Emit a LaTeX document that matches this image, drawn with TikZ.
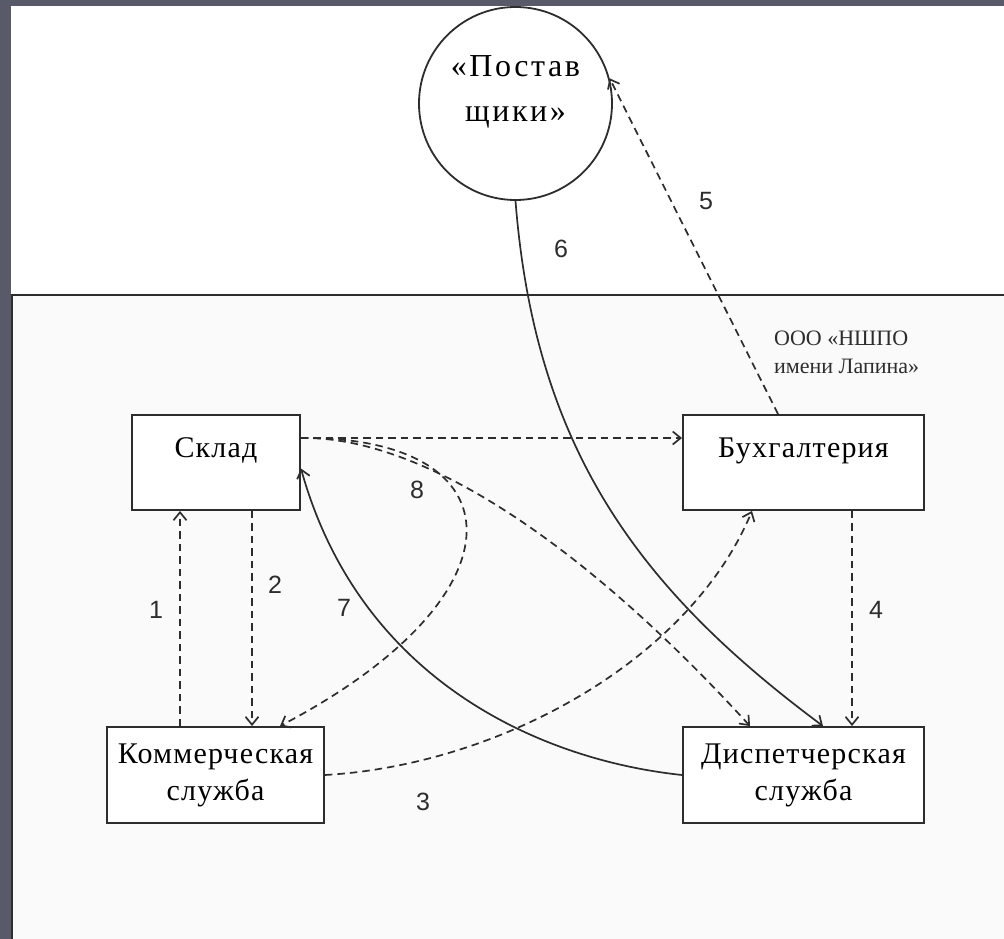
\documentclass[tikz,border=0pt]{standalone}
\usepackage{fontspec}
\setmainfont{Liberation Serif}
\newfontfamily\numfont{Liberation Sans}
\newfontfamily\boxfont[LetterSpace=4]{Liberation Serif}
\newfontfamily\circfont[LetterSpace=8]{Liberation Serif}
\usetikzlibrary{arrows.meta}
\definecolor{frame}{RGB}{88,90,106}
\definecolor{ink}{RGB}{45,45,45}
\begin{document}
\begin{tikzpicture}[x=1pt,y=-1pt,
  box/.style={draw=ink, line width=1.9pt, rectangle, inner sep=0pt, fill=white,
    font=\boxfont\fontsize{30}{37}\selectfont, align=center},
  flow/.style={draw=ink, line width=1.7pt, dash pattern=on 7.5pt off 5pt,
    -{Straight Barb[length=8pt,width=13pt]}},
  solidflow/.style={draw=ink, line width=1.7pt,
    -{Straight Barb[length=8pt,width=13pt]}},
  num/.style={font=\numfont\fontsize{25}{25}\selectfont, text=ink, inner sep=0pt}]
\useasboundingbox (0,0) rectangle (1004,939);
\fill[frame] (0,0) rectangle (1004,939);
\fill[white] (11,6) rectangle (1004,939);
\draw[ink, line width=2pt, fill=black!2] (12,295) rectangle (1012,947);

% nodes
\node[circle, draw=ink, line width=1.8pt, fill=white, minimum size=193pt, inner sep=0pt,
  label={[yshift=12pt, font=\circfont\fontsize{32}{45}\selectfont, align=center]center:«Постав\\щики»}]
  (post) at (515.5,103.5) {};
\node[box, minimum width=168pt, minimum height=95pt, text height=20pt, text depth=30pt]
  (sklad) at (216,462.5) {Склад};
\node[box, minimum width=241pt, minimum height=95pt, text height=20pt, text depth=30pt]
  (buh) at (803.5,462.5) {Бухгалтерия};
\node[box, minimum width=217pt, minimum height=96pt]
  (kom) at (215.5,775) {Коммерческая\\служба};
\node[box, minimum width=241pt, minimum height=96pt]
  (disp) at (803.5,775) {Диспетчерская\\служба};
\node[anchor=north west, align=left, inner sep=0pt, font=\fontsize{22}{28}\selectfont, text=ink]
  (org) at (774,331) {ООО «НШПО\\имени Лапина»};

% connectors
\draw[flow] ([xshift=-35.5pt]kom.north) -- ([xshift=-36pt]sklad.south);
\draw[flow] ([xshift=36pt]sklad.south) -- ([xshift=36.5pt]kom.north);
\draw[flow] (kom.east) .. controls (500,765) and (690,660) .. ([xshift=-51.5pt]buh.south);
\draw[flow] ([xshift=48.5pt]buh.south) -- ([xshift=48.5pt]disp.north);
\draw[flow] ([xshift=-25.5pt]buh.north) -- (post.15);
\draw[solidflow] (post.south) .. controls (535,450) and (640,590) .. ([xshift=19.5pt]disp.north);
\draw[solidflow] (disp.west) .. controls (540,760) and (360,680) .. ([yshift=-6pt]sklad.east);
\draw[flow] ([yshift=24.5pt]sklad.east) .. controls (520,436) and (530,595) .. ([xshift=64.5pt]kom.north);
\draw[flow] ([yshift=24.5pt]sklad.east) -- ([yshift=24.5pt]buh.west);
\draw[flow] ([yshift=24.5pt]sklad.east) .. controls (420,436) and (580,540) .. ([xshift=-53.5pt]disp.north);

% numbers
\node[num] (n1) at (156,610) {1};
\node[num] (n2) at (275,585) {2};
\node[num] (n3) at (423,802) {3};
\node[num] (n4) at (876,610) {4};
\node[num] (n5) at (706,201) {5};
\node[num] (n6) at (561,249) {6};
\node[num] (n7) at (344,608) {7};
\node[num] (n8) at (417,490) {8};
\end{tikzpicture}
\end{document}
